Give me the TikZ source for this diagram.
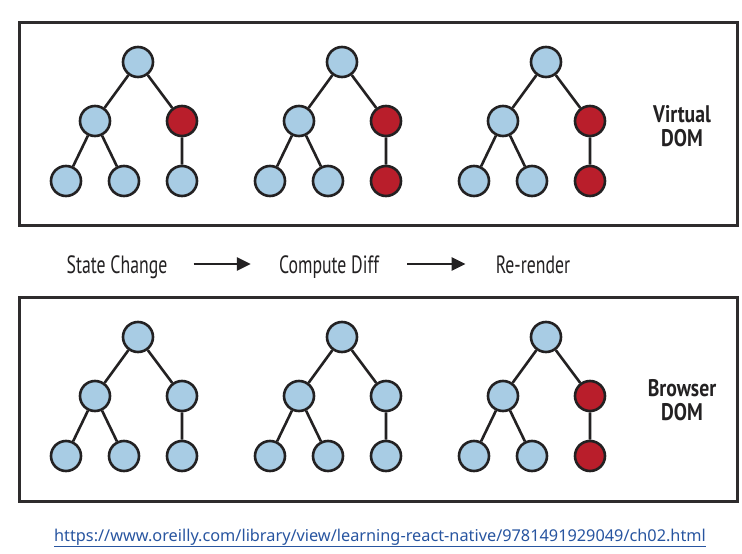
\documentclass[tikz,border=0pt]{standalone}
\usepackage{fontspec}
\setmainfont{PT Sans}
\newfontfamily\condfont[FakeStretch=0.71]{PT Sans}
\newfontfamily\sidefont[FakeStretch=0.82]{PT Sans}
\newfontfamily\urlfont{Noto Sans}
\usetikzlibrary{arrows.meta}

\definecolor{leafblue}{RGB}{168,204,228}
\definecolor{diffred}{RGB}{185,30,43}
\definecolor{inkgray}{RGB}{35,33,34}
\definecolor{urlblue}{RGB}{40,85,160}

\begin{document}
\begin{tikzpicture}[x=1pt, y=-1pt,
  dom/.style={circle, draw=inkgray, line width=2.6pt, minimum size=30pt, inner sep=0pt},
  link/.style={draw=inkgray, line width=2.6pt},
  frame/.style={draw=inkgray!95, line width=3pt},
  lbl/.style={font=\condfont\fontsize{25}{28}\selectfont, text=inkgray, inner sep=0pt, anchor=base},
  side/.style={font=\sidefont\bfseries\fontsize{24}{24}\selectfont, align=center, text=inkgray},
  flow/.style={-{Triangle[length=14pt,width=13pt]}, line width=2.5pt, draw=inkgray}]
        \useasboundingbox (0,0) rectangle (742,554);

        % the two panels
        \draw[frame] (19,22) rectangle (737,225);
        \draw[frame] (19,297) rectangle (737,501);

        % six small trees: name/x/y/colour of right child/colour of its leaf
        \foreach \t/\x/\y/\cr/\cc in {a/138/62/diffred/leafblue, b/342/62/diffred/diffred,
                                      c/546/62/diffred/diffred, d/138/337/leafblue/leafblue,
                                      e/342/337/leafblue/leafblue, f/546/337/diffred/diffred} {
            \node[dom, fill=leafblue] (\t0) at (\x,\y) {};
            \node[dom, fill=leafblue] (\t1) at (\x-43,\y+59) {};
            \node[dom, fill=\cr] (\t2) at (\x+44,\y+59) {};
            \node[dom, fill=leafblue] (\t3) at (\x-72,\y+119) {};
            \node[dom, fill=leafblue] (\t4) at (\x-14,\y+119) {};
            \node[dom, fill=\cc] (\t5) at (\x+44,\y+119) {};
            \draw[link] (\t0) -- (\t1) (\t0) -- (\t2) (\t1) -- (\t3) (\t1) -- (\t4) (\t2) -- (\t5);
        }

        \node[side] (vdom) at (682,126) {Virtual\\DOM};
        \node[side] (bdom) at (682,400) {Browser\\DOM};

        % steps in between
        \node[lbl] (state) at (117,273) {State Change};
        \node[lbl] (diff) at (329,273) {Compute Diff};
        \node[lbl] (render) at (533,273) {Re-render};
        \draw[flow, shorten <=26pt, shorten >=28pt] ([yshift=9pt]state.base east) -- ([yshift=9pt]diff.base west);
        \draw[flow, shorten <=28pt, shorten >=30pt] ([yshift=9pt]diff.base east) -- ([yshift=9pt]render.base west);

        \node[font=\urlfont\fontsize{16.3}{19}\selectfont, text=urlblue] (src) at (380,538)
            {\underline{https://www.oreilly.com/library/view/learning-react-native/9781491929049/ch02.html}};
\end{tikzpicture}
\end{document}
